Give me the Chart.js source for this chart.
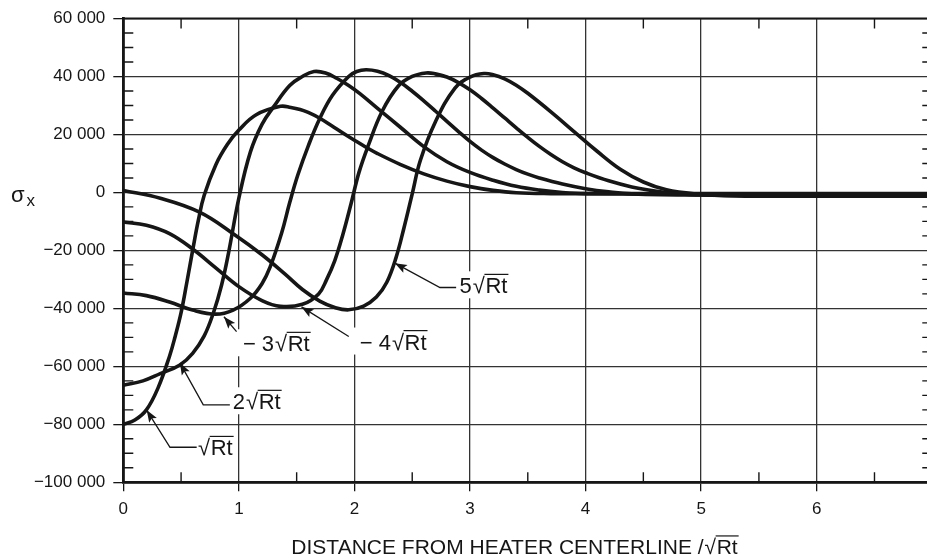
<!DOCTYPE html>
<html><head><meta charset="utf-8">
<script src="https://cdn.jsdelivr.net/npm/chart.js@4.4.0/dist/chart.umd.min.js"></script>
<style>
html,body{margin:0;padding:0;background:#fff;overflow:hidden;width:927px;height:557px;}
#wrap{position:relative;width:945px;height:557px;}
</style></head><body>
<div id="wrap"><canvas id="c" width="945" height="557"></canvas></div>
<script>
// ---- axis ticks ----
const xTickValues = [0, 1, 2, 3, 4, 5, 6, 7];
const xTickLabels = ['0', '1', '2', '3', '4', '5', '6', '7'];
const yTickValues = [60000, 40000, 20000, 0, -20000, -40000, -60000, -80000, -100000];
const yTickLabels = ['60 000', '40 000', '20 000', '0', '\u221220 000', '\u221240 000', '\u221260 000', '\u221280 000', '\u2212100 000'];

// ---- series (x in units of sqrt(Rt), y = sigma_x) ----
const seriesNames = ['\u221ARt', '2\u221ARt', '3\u221ARt', '4\u221ARt', '5\u221ARt'];

const rt1X = [0, 0.1, 0.2, 0.3, 0.4, 0.45, 0.5, 0.55, 0.6, 0.65, 0.7, 0.8, 0.9, 1.0, 1.15, 1.36, 1.45, 1.53, 1.6, 1.7, 1.8, 1.9, 2.0, 2.1, 2.2, 2.4, 2.6, 2.8, 3.0, 3.2, 3.4, 3.7, 4.0, 5.0, 6.0, 7.0];
const rt1Y = [-80000, -78500, -75000, -67500, -56500, -49500, -41500, -31000, -20000, -9500, -1000, 9500, 16500, 21500, 26800, 29700, 29300, 28600, 27600, 25600, 23100, 20500, 18000, 15600, 13400, 9600, 6400, 3900, 2000, 700, -100, -400, -400, -400, -400, -400];

const rt2X = [0, 0.17, 0.32, 0.49, 0.6, 0.7, 0.78, 0.85, 0.91, 1.0, 1.1, 1.2, 1.3, 1.44, 1.55, 1.65, 1.75, 1.85, 1.95, 2.05, 2.2, 2.4, 2.6, 2.8, 3.0, 3.2, 3.4, 3.6, 3.8, 4.0, 5.0, 6.0, 7.0];
const rt2Y = [-66500, -65000, -62500, -59500, -55500, -49500, -41500, -32000, -21000, -2000, 14000, 23500, 29500, 36900, 40000, 41700, 41200, 39300, 36900, 34000, 29000, 22400, 15800, 10600, 6900, 4200, 2100, 800, 0, -400, -600, -600, -600];

const rt3X = [0, 0.2, 0.4, 0.6, 0.8, 0.95, 1.1, 1.2, 1.27, 1.37, 1.44, 1.51, 1.6, 1.7, 1.81, 1.95, 2.02, 2.1, 2.2, 2.3, 2.4, 2.5, 2.6, 2.7, 2.8, 2.9, 3.0, 3.1, 3.2, 3.3, 3.4, 3.5, 3.6, 3.8, 4.0, 4.2, 4.4, 5.0, 6.0, 7.0];
const rt3Y = [-34700, -35600, -37800, -40600, -42000, -40600, -36500, -31500, -25800, -14000, -3500, 6000, 16000, 25500, 33500, 40000, 41700, 42300, 41800, 40300, 37900, 34900, 31600, 28100, 24500, 21000, 17600, 14600, 12000, 9800, 7900, 6300, 5000, 2900, 1300, 200, -500, -900, -900, -900];

const rt4X = [0, 0.2, 0.4, 0.6, 0.8, 1.0, 1.2, 1.36, 1.55, 1.69, 1.76, 1.83, 1.9, 1.97, 2.04, 2.12, 2.24, 2.38, 2.5, 2.62, 2.7, 2.8, 2.9, 3.0, 3.1, 3.2, 3.3, 3.4, 3.5, 3.6, 3.7, 3.8, 3.9, 4.0, 4.2, 4.4, 4.6, 4.8, 5.0, 5.5, 6.0, 7.0];
const rt4Y = [-10200, -11300, -14200, -19500, -26000, -32500, -37300, -39300, -38600, -35000, -30000, -23500, -14500, -4000, 7000, 16200, 28000, 36700, 40000, 41200, 40900, 39800, 37900, 35400, 32400, 29100, 25700, 22300, 19000, 15900, 13100, 10600, 8500, 6800, 4000, 1900, 500, -400, -900, -1100, -1100, -1100];

const rt5X = [0, 0.32, 0.66, 0.96, 1.2, 1.4, 1.55, 1.7, 1.83, 1.95, 2.08, 2.19, 2.28, 2.36, 2.43, 2.5, 2.57, 2.7, 2.87, 3.0, 3.12, 3.2, 3.3, 3.4, 3.5, 3.7, 3.9, 4.1, 4.3, 4.5, 4.7, 4.95, 5.3, 6.0, 7.0];
const rt5Y = [700, -2000, -6800, -14500, -21500, -28200, -33500, -37500, -39700, -40500, -39200, -36100, -31000, -22500, -12000, -500, 11000, 24300, 36000, 39800, 41000, 40600, 39200, 37000, 34200, 27800, 21000, 14200, 8000, 3600, 900, -500, -1200, -1300, -1300];

// ---- curve labels (data coordinates): arrow tip, optional elbow, leader end, text anchor ----
const labelPrefix = ['', '2', '\u2212 3', '\u2212 4', '5'];
const labelTipX   = [0.202, 0.49, 0.871, 1.542, 2.35];
const labelTipY   = [-75100, -58800, -42900, -39500, -24400];
const labelElbowX = [0.404, 0.692, null, null, 2.74];
const labelElbowY = [-87900, -73300, null, null, -32800];
const labelEndX   = [0.635, 0.922, 0.98, 1.951, 2.88];
const labelEndY   = [-87900, -73300, -48000, -49700, -32800];
const labelTextX  = [0.647, 0.948, 1.035, 2.046, 2.91];
const labelTextY  = [-90700, -74800, -54800, -54200, -34800];

const FONT = '"Liberation Sans", Arial, Helvetica, sans-serif';
const INK = '#161616';

function pts(xs, ys) { return xs.map((x, i) => ({ x: x, y: ys[i] })); }
const allX = [rt1X, rt2X, rt3X, rt4X, rt5X];
const allY = [rt1Y, rt2Y, rt3Y, rt4Y, rt5Y];

const datasets = seriesNames.map((n, i) => ({
  label: n,
  data: pts(allX[i], allY[i]),
  borderColor: INK,
  borderWidth: 3.6,
  pointRadius: 0,
  fill: false,
  tension: 0.4,
  borderCapStyle: 'round',
  borderJoinStyle: 'round'
}));

function radicalText(ctx, x, baseline, prefix, size, draw) {
  ctx.font = size + 'px ' + FONT;
  ctx.textAlign = 'left';
  ctx.textBaseline = 'alphabetic';
  let cx = x;
  if (prefix) {
    if (draw) ctx.fillText(prefix, cx, baseline);
    cx += ctx.measureText(prefix).width + 1;
  }
  if (draw) ctx.fillText('\u221A', cx, baseline);
  cx += ctx.measureText('\u221A').width + 0.5;
  const w = ctx.measureText('Rt').width;
  if (draw) {
    ctx.fillText('Rt', cx, baseline);
    ctx.beginPath();
    ctx.lineWidth = 1.2;
    ctx.strokeStyle = INK;
    const oy = baseline - size * 0.86;
    ctx.moveTo(cx - 1, oy);
    ctx.lineTo(cx + w + 1, oy);
    ctx.stroke();
  }
  return cx + w + 1 - x;
}

function arrowHead(ctx, tx, ty, fx, fy) {
  const ang = Math.atan2(ty - fy, tx - fx);
  const L = 12, W = 4.5;
  ctx.beginPath();
  ctx.moveTo(tx, ty);
  ctx.lineTo(tx - L * Math.cos(ang) + W * Math.sin(ang), ty - L * Math.sin(ang) - W * Math.cos(ang));
  ctx.lineTo(tx - L * 0.8 * Math.cos(ang), ty - L * 0.8 * Math.sin(ang));
  ctx.lineTo(tx - L * Math.cos(ang) - W * Math.sin(ang), ty - L * Math.sin(ang) + W * Math.cos(ang));
  ctx.closePath();
  ctx.fill();
}

const decor = {
  id: 'decor',
  afterDatasetsDraw(chart) {
    const ctx = chart.ctx;
    const a = chart.chartArea;
    const xs = chart.scales.x, ys = chart.scales.y;
    ctx.save();
    ctx.strokeStyle = INK;
    ctx.fillStyle = INK;
    // top and right frame
    ctx.lineWidth = 2.2;
    ctx.beginPath();
    ctx.moveTo(a.left, a.top); ctx.lineTo(a.right, a.top); ctx.lineTo(a.right, a.bottom);
    ctx.stroke();
    // minor ticks
    ctx.lineWidth = 1.4;
    ctx.beginPath();
    for (let v = xs.min + 0.5; v < xs.max; v += 1) {
      const px = xs.getPixelForValue(v);
      ctx.moveTo(px, a.top); ctx.lineTo(px, a.top + 10);
      ctx.moveTo(px, a.bottom); ctx.lineTo(px, a.bottom - 10);
    }
    for (let v = ys.min + 5000; v < ys.max; v += 5000) {
      if (v % 20000 === 0) continue;
      const py = ys.getPixelForValue(v);
      ctx.moveTo(a.left, py); ctx.lineTo(a.left + 10, py);
      ctx.moveTo(a.right, py); ctx.lineTo(a.right - 10, py);
    }
    ctx.stroke();

    // curve labels
    for (let i = 0; i < labelPrefix.length; i++) {
      const tx = xs.getPixelForValue(labelTextX[i]);
      const ty = ys.getPixelForValue(labelTextY[i]);
      const w = radicalText(ctx, tx, ty, labelPrefix[i], 22, false);
      ctx.fillStyle = '#fff';
      ctx.fillRect(tx - 6, ty - 22, w + 9, 27);
      ctx.fillStyle = INK;
      radicalText(ctx, tx, ty, labelPrefix[i], 22, true);
      // leader
      const px0 = xs.getPixelForValue(labelTipX[i]), py0 = ys.getPixelForValue(labelTipY[i]);
      const pts2 = [[px0, py0]];
      if (labelElbowX[i] !== null) pts2.push([xs.getPixelForValue(labelElbowX[i]), ys.getPixelForValue(labelElbowY[i])]);
      pts2.push([xs.getPixelForValue(labelEndX[i]), ys.getPixelForValue(labelEndY[i])]);
      ctx.lineWidth = 1.3;
      ctx.beginPath();
      ctx.moveTo(pts2[0][0], pts2[0][1]);
      for (let k = 1; k < pts2.length; k++) ctx.lineTo(pts2[k][0], pts2[k][1]);
      ctx.stroke();
      arrowHead(ctx, px0, py0, pts2[1][0], pts2[1][1]);
    }

    // axis titles
    ctx.fillStyle = INK;
    ctx.textAlign = 'left';
    ctx.textBaseline = 'alphabetic';
    ctx.font = '22px ' + FONT;
    ctx.fillText('\u03C3', 11, 201.5);
    ctx.font = '17px ' + FONT;
    ctx.fillText('x', 26.5, 206);
    const tw = radicalText(ctx, 0, 0, 'DISTANCE FROM HEATER CENTERLINE /', 21, false);
    radicalText(ctx, 515 - tw / 2, 554, 'DISTANCE FROM HEATER CENTERLINE /', 21, true);
    ctx.restore();
  }
};

new Chart(document.getElementById('c'), {
  type: 'line',
  data: { datasets: datasets },
  options: {
    responsive: false,
    devicePixelRatio: 1,
    animation: false,
    events: [],
    layout: { padding: { top: 18.5, right: 12, left: 0, bottom: 0 } },
    plugins: { legend: { display: false }, tooltip: { enabled: false } },
    scales: {
      x: {
        type: 'linear', min: 0, max: 7,
        afterBuildTicks: s => { s.ticks = xTickValues.map(v => ({ value: v })); },
        afterFit: s => { s.height = 74.7; },
        ticks: {
          autoSkip: false, maxRotation: 0, padding: 8, color: INK,
          font: { family: FONT, size: 17 },
          callback: v => xTickLabels[xTickValues.indexOf(v)]
        },
        grid: { color: '#333', lineWidth: 1.3, tickLength: 9, tickWidth: 1.3, tickColor: INK },
        border: { display: true, color: INK, width: 2.8 }
      },
      y: {
        type: 'linear', min: -100000, max: 60000,
        afterBuildTicks: s => { s.ticks = yTickValues.map(v => ({ value: v })); },
        afterFit: s => { s.width = 123.3; },
        ticks: {
          autoSkip: false, padding: 8, color: INK,
          font: { family: FONT, size: 17 },
          callback: v => yTickLabels[yTickValues.indexOf(v)]
        },
        grid: { color: '#333', lineWidth: 1.3, tickLength: 10, tickWidth: 1.3, tickColor: INK },
        border: { display: true, color: INK, width: 2.8 }
      }
    }
  },
  plugins: [decor]
});
</script>
</body></html>
